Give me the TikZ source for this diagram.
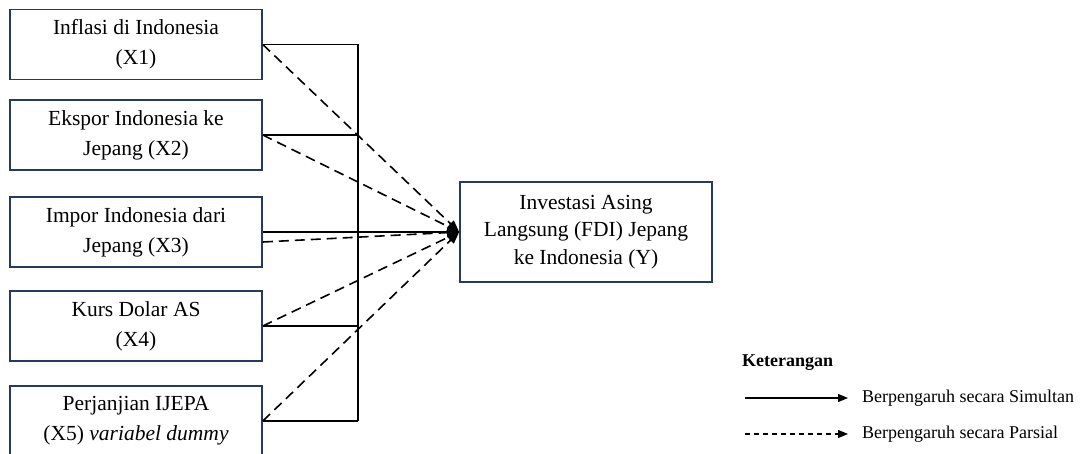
\documentclass[tikz,border=0pt]{standalone}
\usepackage{fontspec}
\setmainfont{Liberation Serif}
\usetikzlibrary{arrows.meta}
\definecolor{boxblue}{RGB}{38,58,96}
\begin{document}
\begin{tikzpicture}[x=1pt,y=-1pt,
  varbox/.style={draw=boxblue, line width=1.6pt, minimum width=252pt, minimum height=70pt, inner sep=0pt, align=center, font=\fontsize{21.5}{30}\selectfont},
  ybox/.style={draw=boxblue, line width=1.6pt, minimum width=252pt, minimum height=100pt, inner sep=0pt, align=center, font=\fontsize{21.5}{27.5}\selectfont},
  simline/.style={line width=1.7pt},
  parline/.style={line width=1.6pt, dash pattern=on 10pt off 6pt},
  tipar/.style={-{Triangle[length=12pt,width=9pt]}},
  legtip/.style={-{Triangle[length=10pt,width=8pt]}},
  legtext/.style={font=\fontsize{18}{20}\selectfont, anchor=west, inner sep=0pt}
]
\useasboundingbox (0,0) rectangle (1081,454);

\node[varbox] (x1) at (136,44.5) {Inflasi di Indonesia\\(X1)};
\node[varbox] (x2) at (136,135) {Ekspor Indonesia ke\\Jepang (X2)};
\node[varbox] (x3) at (136,232) {Impor Indonesia dari\\Jepang (X3)};
\node[varbox] (x4) at (136,326) {Kurs Dolar AS\\(X4)};
\node[varbox] (x5) at (136,421) {Perjanjian IJEPA\\(X5) \textit{variabel dummy}};
\node[ybox] (y) at (586,232) {Investasi Asing\\Langsung (FDI) Jepang\\ke Indonesia (Y)};

\coordinate (bus) at (358,0);

% simultaneous
\draw[simline] (x1.east) -- (x1.east -| bus);
\draw[simline] (x2.east) -- (x2.east -| bus);
\draw[simline] (x4.east) -- (x4.east -| bus);
\draw[simline] (x5.east) -- (x5.east -| bus);
\draw[simline] (x1.east -| bus) -- (x5.east -| bus);
\draw[simline,tipar] (x3.east) -- (y.west);

% partial
\draw[parline,tipar] (x1.east) -- (y.west);
\draw[parline,tipar] (x2.east) -- (y.west);
\draw[parline,tipar] ([yshift=-10pt]x3.east) -- (y.west);
\draw[parline,tipar] (x4.east) -- (y.west);
\draw[parline,tipar] (x5.east) -- (y.west);

% legend
\node[font=\bfseries\fontsize{18}{20}\selectfont, anchor=base west, inner sep=0pt] (ket) at (742,366) {Keterangan};
\coordinate (s1) at (745,398);
\coordinate (s2) at (848,398);
\draw[line width=1.3pt,legtip] (s1) -- (s2);
\node[legtext] (l1) at (862,398) {Berpengaruh secara Simultan};
\coordinate (p1) at (745,434);
\coordinate (p2) at (848,434);
\draw[line width=1.2pt,dash pattern=on 5pt off 4pt,legtip] (p1) -- (p2);
\node[legtext] (l2) at (862,434) {Berpengaruh secara Parsial};
\end{tikzpicture}
\end{document}
